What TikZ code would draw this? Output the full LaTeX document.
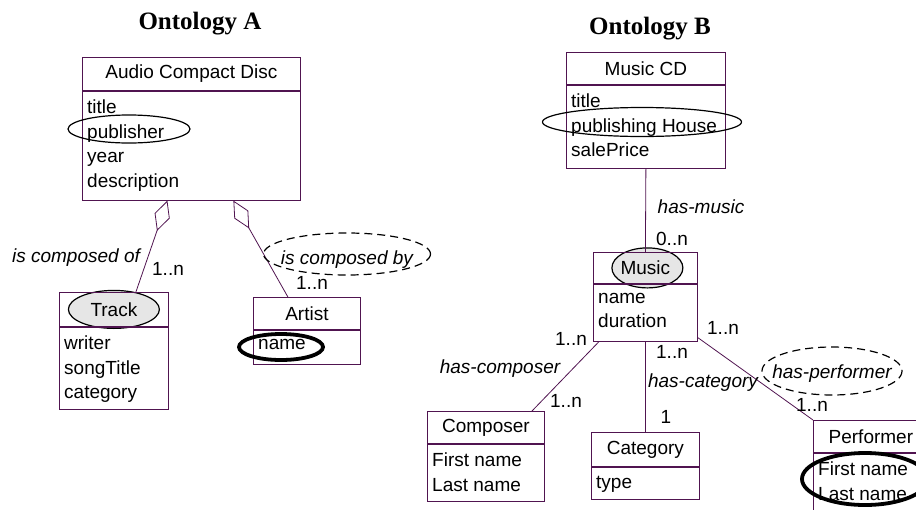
\documentclass[tikz,border=0pt]{standalone}
\usepackage{fontspec}
\setmainfont{Liberation Sans}
\newfontfamily\titlefont{Liberation Serif}
\usetikzlibrary{shapes.geometric,arrows.meta,backgrounds}
\definecolor{umlline}{RGB}{80,20,80}
\definecolor{hilite}{RGB}{230,230,230}

\begin{document}
\begin{tikzpicture}[x=1pt,y=-1pt,
    every node/.style={font=\fontsize{19}{24.5}\selectfont},
    hdr/.style={draw=umlline,line width=0.8pt,anchor=north west,inner sep=0},
    body/.style={draw=umlline,line width=0.8pt,anchor=north west,inner sep=0},
    attrs/.style={anchor=north west,align=left,inner xsep=5pt,inner ysep=9pt},
    link/.style={draw=umlline,line width=0.8pt},
    role/.style={anchor=base,inner sep=0,font=\fontsize{19}{24.5}\selectfont\itshape},
    mult/.style={anchor=base,inner sep=0},
    ring/.style={draw,line width=1.2pt},
    boldring/.style={draw,line width=3.8pt},
    dashring/.style={draw,line width=1.2pt,dash pattern=on 8pt off 5pt}]
    \useasboundingbox (0,0) rectangle (916,509);
    \clip (0,0) rectangle (916,509);
    % Ontology A
    \node[anchor=base,font=\titlefont\bfseries\fontsize{25}{30}\selectfont] (titleA) at (200,29) {Ontology A};
    \node[hdr,minimum width=218,minimum height=33] (cd) at (82,57) {Audio Compact Disc};
    \node[body,minimum width=218,minimum height=109,label={[attrs]north west:title\\publisher\\year\\description}] (cdbody) at (cd.south west) {};
    \node[hdr,minimum width=109,minimum height=34] (track) at (59,292) {Track};
    \node[body,minimum width=109,minimum height=82,label={[attrs]north west:writer\\songTitle\\category}] (trackbody) at (track.south west) {};
    \node[hdr,minimum width=107,minimum height=32] (artist) at (253,297) {Artist};
    \node[body,minimum width=107,minimum height=34,label={[attrs]north west:name}] (artistbody) at (artist.south west) {};
    \draw[link,-{Diamond[open,length=32pt,width=16pt]}] ([xshift=22]track.north) -- ([xshift=-24]cdbody.south);
    \draw[link,-{Diamond[open,length=32pt,width=16pt]}] ([xshift=-19]artist.north) -- ([xshift=42]cdbody.south);
    \node[role] (iscomposedof) at (76,262) {is composed of};
    \node[mult] (mtrack) at (168,275) {1..n};
    \node[role] (iscomposedby) at (347,264) {is composed by};
    \node[mult] (martist) at (312,289) {1..n};
    % Ontology B
    \node[anchor=base,font=\titlefont\bfseries\fontsize{25}{30}\selectfont] (titleB) at (650,34) {Ontology B};
    \node[hdr,minimum width=159,minimum height=32] (mcd) at (566,52) {Music CD};
    \node[body,minimum width=159,minimum height=83,label={[attrs]north west:title\\publishing House\\salePrice}] (mcdbody) at (mcd.south west) {};
    \node[hdr,minimum width=104,minimum height=31] (music) at (593,252) {Music};
    \node[body,minimum width=104,minimum height=57,label={[attrs]north west:name\\duration}] (musicbody) at (music.south west) {};
    \node[hdr,minimum width=117,minimum height=32] (composer) at (427,411) {Composer};
    \node[body,minimum width=117,minimum height=57,label={[attrs]north west:First name\\Last name}] (composerbody) at (composer.south west) {};
    \node[hdr,minimum width=108,minimum height=34] (category) at (591,432) {Category};
    \node[body,minimum width=108,minimum height=32,label={[attrs]north west:type}] (categorybody) at (category.south west) {};
    \node[hdr,minimum width=115,minimum height=32] (performer) at (813,420) {Performer};
    \node[body,minimum width=115,minimum height=80,label={[attrs]north west:First name\\Last name}] (performerbody) at (performer.south west) {};
    \draw[link] (mcdbody.south) -- (music.north);
    \draw[link] ([xshift=6]musicbody.south west) -- ([xshift=105]composer.north west);
    \draw[link] (musicbody.south) -- (category.north);
    \draw[link] ([yshift=4]musicbody.south east) -- (performer.north west);
    \node[role] (hasmusic) at (701,213) {has-music};
    \node[mult] (mmusic) at (672,245) {0..n};
    \node[role] (hascomposer) at (500,373) {has-composer};
    \node[mult] (mcomp1) at (571,345) {1..n};
    \node[mult] (mcomp2) at (566,407) {1..n};
    \node[role] (hascategory) at (703,387) {has-category};
    \node[mult] (mcat1) at (672,358) {1..n};
    \node[mult] (mcat2) at (666,423) {1};
    \node[role] (hasperformer) at (832,378) {has-performer};
    \node[mult] (mperf1) at (723,334) {1..n};
    \node[mult] (mperf2) at (812,411) {1..n};
    % highlights
    \begin{pgfonlayer}{background}
        \filldraw[ring,fill=hilite] (track.center) ellipse [x radius=45.5,y radius=19];
        \filldraw[ring,fill=hilite] ([xshift=2]music.center) ellipse [x radius=35.5,y radius=20];
    \end{pgfonlayer}
    \draw[ring] (129,129) ellipse [x radius=61,y radius=14];
    \draw[ring] (642,122) ellipse [x radius=99.5,y radius=14.5];
    \draw[boldring] (281,347) ellipse [x radius=42,y radius=13];
    \draw[boldring] (865,479) ellipse [x radius=63,y radius=26];
    \draw[dashring] (347,254) ellipse [x radius=83.5,y radius=21];
    \draw[dashring] (832,371) ellipse [x radius=70,y radius=24];
\end{tikzpicture}
\end{document}
